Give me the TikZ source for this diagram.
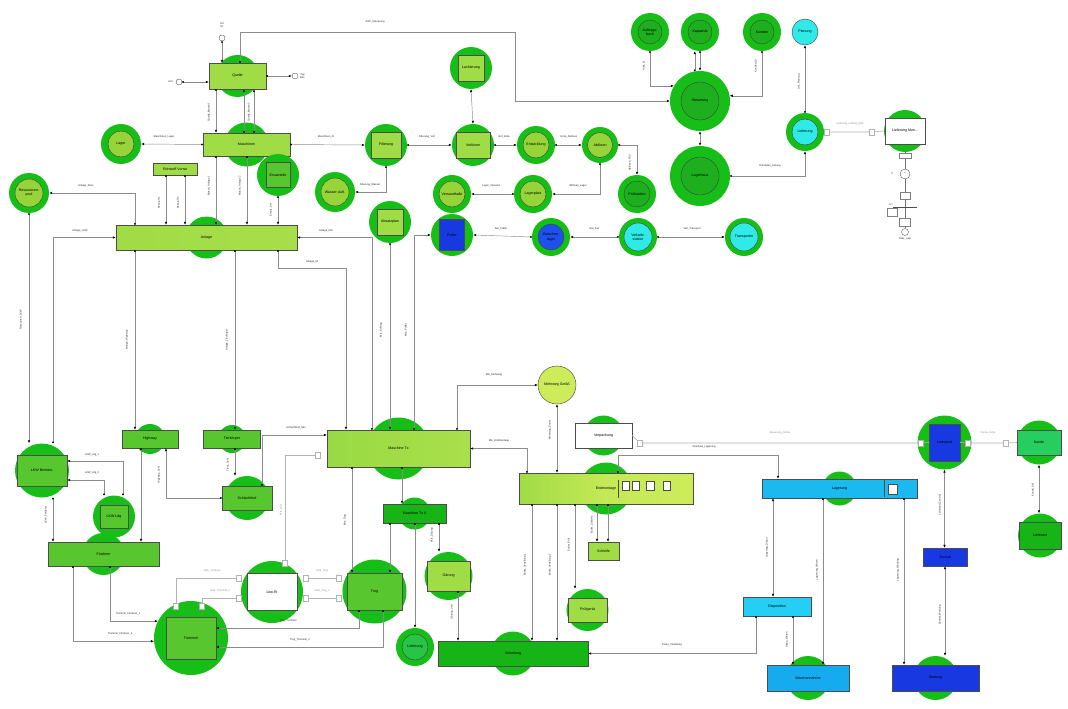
\documentclass[tikz,border=0pt]{standalone}
\usepackage{fontspec}
\setmainfont{Liberation Sans}
\usetikzlibrary{arrows.meta,calc}

\definecolor{blobg}{RGB}{24,190,24}
\definecolor{lgr}{RGB}{160,220,70}
\definecolor{lgr2}{RGB}{150,212,58}
\definecolor{mgr}{RGB}{88,198,46}
\definecolor{dgr}{RGB}{22,180,22}
\definecolor{dgr2}{RGB}{30,175,30}
\definecolor{ygr}{RGB}{206,236,90}
\definecolor{cyn}{RGB}{48,234,232}
\definecolor{skyb}{RGB}{26,186,240}
\definecolor{skyb2}{RGB}{22,170,238}
\definecolor{skyc}{RGB}{36,206,244}
\definecolor{royb}{RGB}{24,56,226}
\definecolor{blu2}{RGB}{30,80,235}
\definecolor{kgr}{RGB}{38,206,96}
\definecolor{kgr2}{RGB}{40,196,70}

% box with a green halo behind it: name, x, y, width, height, fill, text, halo size
\newcommand\boxnode[8]{%
  \node[blob=#8pt] (#1-bg) at (#2,#3) {};
  \node[rb, fill=#6, minimum width=#4pt, minimum height=#5pt] (#1) at (#2,#3) {#7};}
% ring node: name, x, y, outer size, inner size, inner fill, text
\newcommand\ringnode[7]{%
  \node[blob=#4pt] (#1) at (#2,#3) {};
  \node[cb, fill=#6, minimum size=#5pt] (#1-in) at (#2,#3) {#7};}

\begin{document}
\begin{tikzpicture}[x=1pt,y=-1pt,
  every node/.style={font=\fontsize{3.6}{4.2}\selectfont, align=center, inner sep=0pt},
  blob/.style={circle, fill=blobg, draw=none, minimum size=#1},
  rb/.style={rectangle, draw=black!70, line width=0.4pt},
  cb/.style={circle, draw=black!75, line width=0.4pt},
  cn/.style={draw=black!45, line width=0.45pt, {Circle[length=1.8pt,black]}-{Latex[length=3pt,width=2.4pt,black]}},
  cnn/.style={draw=black!45, line width=0.45pt, {Latex[length=3pt,width=2.4pt,black]}-{Latex[length=3pt,width=2.4pt,black]}},
  wr/.style={draw=black!30, line width=0.6pt},
  port/.style={rectangle, draw=black!30, fill=white, minimum width=5pt, minimum height=6pt, line width=0.35pt},
  sym/.style={circle, draw=black!70, line width=0.35pt, minimum size=6pt, fill=white},
  el/.style={font=\fontsize{2.6}{3}\selectfont, text=black!85},
  elg/.style={el, text=black!45},
  ev/.style={el, rotate=90},
]
\fill[white, use as bounding box] (0,0) rectangle (1068,709);

% ---------- upper left: source, machines, plant ----------
\boxnode{quelle}{237.5}{76}{57}{26}{lgr}{Quelle}{42}
\node[sym] (symA) at (222,38) {};
\node[el] (symAt) at (222,25) {Kd\\Nr};
\node[sym] (symB) at (179,82) {};
\node[el, anchor=east] (symBt) at (173,82) {Anz};
\node[sym] (symC) at (295,76) {};
\node[el, anchor=west] (symCt) at (300,76) {Typ\\Bez};

\boxnode{masch}{246.5}{144.5}{87}{23}{lgr}{Maschinen}{44}
\ringnode{lager}{121}{144}{40}{26}{lgr2}{Lager}
\node[rb, fill=lgr, minimum width=44pt, minimum height=12pt] (rohst) at (175,169) {Rohstoff Vorrat};
\boxnode{ersatz}{278}{175}{24}{25}{mgr}{Ersatzteile}{42}
\ringnode{ressp}{29}{193}{40}{28}{lgr2}{Ressourcen-\\pool}
\boxnode{anlage}{206.5}{237.5}{181}{25}{lgr, left color=lgr, right color=lgr!85!ygr}{Anlage}{42}

% ---------- processing chain ----------
\boxnode{filt}{386}{145}{30}{26}{lgr}{Filterung}{42}
\boxnode{vorl}{473}{145}{34}{26}{lgr}{Vorlösen}{42}
\boxnode{lack}{471}{68}{26}{26}{lgr}{Lackierung}{42}
\ringnode{entw}{536}{145}{38}{26}{lgr2}{Entwicklung}
\ringnode{trock}{600}{145}{36}{25}{lgr2}{Ablösen}
\ringnode{pruef}{637}{194}{38}{26}{dgr2}{Prüfstation}
\ringnode{lagern}{533}{194}{38}{26}{lgr2}{Lagerplatz}
\ringnode{verp}{452}{194}{38}{26}{lgr2}{Versandhalle}
\ringnode{wasser}{335}{192}{40}{28}{lgr2}{Wasser Aufl.}
\boxnode{absatz}{390}{222}{26}{26}{lgr}{Absatzplan}{42}
\boxnode{puffer}{452}{235}{25}{31}{royb}{Puffer}{42}
\ringnode{zwl}{551}{237}{38}{26}{blu2}{Zwischen-\\lager}
\ringnode{verl}{638}{237}{38}{28}{cyn}{Verlade-\\station}
\ringnode{transp}{744}{237}{38}{28}{cyn}{Transporter}

% ---------- upper right: control ----------
\ringnode{steuer}{700}{101}{60}{38}{dgr2}{Steuerung}
\ringnode{lagerh}{700}{176}{60}{38}{dgr2}{Lagerhaus}
\ringnode{auftr}{650}{32}{38}{24}{dgr2}{Auftrags-\\buch}
\ringnode{kapaz}{700}{32}{38}{24}{dgr2}{Kapazität}
\ringnode{kunden}{762}{32}{38}{24}{dgr2}{Kunden}
\node[cb, fill=cyn, minimum size=26pt] (planung) at (805,32) {Planung};
\ringnode{liefc}{805}{132}{38}{26}{cyn}{Lieferung}
\boxnode{liefmon}{905}{131}{40}{26}{white}{Lieferung Mon...}{42}

% supply branch below the monitor box
\node[rb, draw=black!50, fill=white, minimum width=12pt, minimum height=5pt] (g1) at (905,156) {};
\node[sym, minimum size=10pt] (g2) at (905,174) {\textasciitilde};
\node[el, anchor=east] (g2t) at (893,174) {3};
\node[rb, draw=black!50, fill=white, minimum width=10pt, minimum height=7pt] (g3) at (905,196) {};
\node[rb, draw=black!50, fill=white, minimum width=10pt, minimum height=8pt] (g4) at (892,212) {};
\node[el] (g4t) at (891,205) {0,1};
\node[rb, draw=black!50, fill=white, minimum width=11pt, minimum height=8pt] (g5) at (905,222) {};
\node[sym, minimum size=7pt] (g6) at (905,232) {};
\node[el] (g6t) at (905,239) {Netz\_Last};
\draw[black!55, line width=0.4pt] (liefmon-bg.south) -- (g1) -- (g2) -- (g3) -- (g5) -- (g6);
\draw[black!70, line width=0.5pt] (893,207) -- (917,207);

% ---------- middle left: transport ----------
\boxnode{lkw}{42}{470.5}{50}{31}{mgr}{LKW Bereitst.}{54}
\boxnode{lkwl}{114}{516.5}{28}{23}{mgr}{LKW Ldg}{42}
\boxnode{foerd}{103.5}{554}{111}{24}{mgr}{Förderer}{42}
\boxnode{highw}{150}{439}{56}{18}{mgr}{Highway}{30}
\boxnode{tierk}{232}{439}{57}{18}{mgr}{Tierkörper}{28}
\boxnode{schl}{247}{498}{50}{24}{mgr}{Schlachthof}{44}
\boxnode{trommel}{191}{638}{50}{42}{mgr}{Trommel}{74}
\boxnode{lkwri}{272}{592}{50}{37}{white}{Lkw-Ri}{62}
\boxnode{trog}{374.5}{591.5}{55}{37}{mgr}{Trog}{64}

% ---------- centre ----------
\boxnode{mtx}{398.5}{448.5}{143}{37}{lgr, left color=lgr!90!mgr, right color=lgr!80!ygr}{Maschine Tx}{62}
\boxnode{mtxz}{414.5}{513.5}{63}{19}{dgr}{Maschine Tx II}{32}
\boxnode{gaer}{448.5}{576}{43}{30}{lgr}{Gärung}{48}
\ringnode{liefb}{415}{647}{38}{26}{kgr2}{Lieferung}
\boxnode{verteil}{513}{653.5}{150}{25}{dgr}{Verteilung}{44}
\node[cb, fill=ygr, minimum size=38pt] (mehrweg) at (557,385) {Mehrweg Gefäß};
\boxnode{verpw}{603.5}{435.5}{57}{25}{white}{Verpackung}{40}
\boxnode{endm}{606}{488.5}{174}{31}{ygr, left color=lgr, right color=ygr, middle color=ygr!80!lgr}{Endmontage}{52}
\node[rb, fill=white, minimum width=7pt, minimum height=9pt] (em1) at (626,486) {};
\node[rb, fill=white, minimum width=7pt, minimum height=9pt] (em2) at (636,486) {};
\node[rb, fill=white, minimum width=8pt, minimum height=9pt] (em3) at (650,486) {};
\node[rb, fill=white, minimum width=7pt, minimum height=9pt] (em4) at (667,486) {};
\draw[black!70, line width=0.5pt] (618,480) -- (618,498);
\node[rb, fill=lgr, minimum width=31pt, minimum height=18pt] (schleife) at (603.5,551) {Schleife};
\boxnode{pruefg}{587.5}{610}{39}{24}{lgr}{Prüfgerät}{42}

% ---------- lower right ----------
\boxnode{lagerung}{839.5}{488.5}{155}{19}{skyb}{Lagerung}{34}
\node[rb, fill=white, minimum width=9pt, minimum height=10pt] (lg1) at (893,489) {};
\draw[black!70, line width=0.5pt] (884,480) -- (884,497);
\node[rb, fill=skyc, minimum width=68pt, minimum height=19pt] (dispo) at (777,606.5) {Disposition};
\boxnode{waren}{808}{678}{82}{26}{skyb2}{Warenannahme}{44}
\boxnode{wartung}{935.5}{678}{87}{26}{royb}{Wartung}{44}
\boxnode{leitst}{944.5}{442.5}{31}{37}{royb}{Leitstand}{54}
\node[rb, fill=royb, minimum width=44pt, minimum height=18pt] (zentral) at (945,557) {Zentral};
\boxnode{kunde}{1039}{442.5}{44}{25}{kgr}{Kunde}{44}
\boxnode{lieferant}{1040}{535.5}{42}{27}{dgr}{Lieferant}{44}

% ---------- ports of the gray link lines ----------
\node[port] (pl1) at (827,132) {};
\node[port] (pl2) at (872,132) {};
\node[port] (pv1) at (640,443) {};
\node[port] (pv2) at (921,443) {};
\node[port] (pk1) at (968,443) {};
\node[port] (pk2) at (1006,443) {};
\node[port] (pt1) at (176,606) {};
\node[port] (pt2) at (202,606) {};
\node[port] (pr1) at (239,578) {};
\node[port] (pr2) at (239,598) {};
\node[port] (pr3) at (306,578) {};
\node[port] (pr4) at (306,598) {};
\node[port] (pg1) at (339,578) {};
\node[port] (pg2) at (339,598) {};
\node[port] (pr5) at (285,563) {};
\node[port] (pm1) at (318,455) {};

% ---------- connectors: upper left ----------
\draw[cn] (symA) -- (quelle.north -| symA);
\draw[cn] (symB) -- (quelle.west |- symB);
\draw[cn] (quelle.east) -- (symC);
\draw[cn] (quelle.north -| 240,0) |- (515,32) |- (steuer.west);
\draw[cn] (quelle.south -| 216,0) -- (masch.north -| 216,0);
\draw[cn] (masch.north -| 244,0) -- (quelle.south -| 244,0);
\draw[cn] (masch.north -| 254,0) -- (quelle.south -| 254,0);
\draw[cn] (masch.west) -- (lager.east);
\draw[cn] (masch.east) -- (filt-bg.west);
\draw[cn] (masch.south -| 216,0) -- (anlage.north -| 216,0);
\draw[cn] (masch.south -| 247,0) -- (anlage.north -| 247,0);
\draw[cn] (rohst.south -| 166,0) -- (anlage.north -| 166,0);
\draw[cn] (rohst.south -| 185,0) -- (anlage.north -| 185,0);
\draw[cn] (ersatz-bg.south) -- (anlage.north -| ersatz-bg.south);
\draw[cn] (anlage.north -| 135,0) |- (ressp.east);
\draw[cn] (ressp.south) -- (lkw-bg.north -| ressp.south);
\draw[cn] (lkw-bg.north -| 53,0) |- (anlage.west);
\draw[cn] (anlage.south -| 135,0) -- (highw.north -| 135,0);
\draw[cn] (anlage.south -| 235,0) -- (tierk.north -| 235,0);
\draw[cn] (anlage.south -| 278,0) -- (278,268) -| (mtx.north -| 346,0);
\draw[cn] (mtx.north -| 372,0) |- (anlage.east);
\draw[cn] (absatz-bg.south) -- (mtx.north -| absatz-bg.south);
\draw[cn] (mtx.north -| 414,0) |- (puffer-bg.west);

% ---------- connectors: processing chain ----------
\draw[cn] (filt-bg.east) -- (vorl-bg.west);
\draw[cnn] (vorl-bg.north) -- (lack-bg.south);
\draw[cn] (vorl-bg.east) -- (entw.west);
\draw[cn] (entw.east) -- (trock.west);
\draw[cn] (trock.east) -| (pruef.north);
\draw[cn] (trock.south) |- (lagern.east);
\draw[cn] (lagern.west) -- (verp.east);
\draw[cn] (filt-bg.south) |- (wasser.east);
\draw[cn] (verl.west) -- (zwl.east);
\draw[cn] (zwl.west) -- (puffer-bg.east);
\draw[cn] (verl.east) -- (transp.west);

% ---------- connectors: control ----------
\draw[cn] (auftr.south) |- (steuer.150);
\draw[cn] (kapaz.south) -- (steuer.north);
\draw[cn] (steuer.100) -- (steuer.100 |- kapaz.south);
\draw[cn] (kunden.south) |- (steuer.10);
\draw[cn] (liefc.north) -- (planung.south);
\draw[cnn] (steuer.south) -- (lagerh.north);
\draw[cn] (lagerh.east) -| (liefc.south);
\draw[wr] (liefc.east) -- (pl1) -- (pl2) -- (liefmon-bg.west);

% ---------- connectors: transport ----------
\draw[cn] (lkwl-bg.north -| 123,0) |- (lkw.east |- 0,461);
\draw[cn] (lkwl-bg.north -| 104,0) |- (lkw.east |- 0,480);
\draw[cn] (lkw-bg.south -| 53,0) -- (foerd.north -| 53,0);
\draw[cn] (highw.south -| 141,0) -- (foerd.north -| 141,0);
\draw[cn] (schl.west) -| (highw.south -| 166,0);
\draw[cn] (tierk.south -| 235,0) -- (schl-bg.north -| 235,0);
\draw[cn] (schl.north -| 262,0) |- (mtx.west |- 0,435);
\draw[cn] (foerd.south -| 73,0) |- (trommel-bg.185);
\draw[cn] (foerd.south -| 110,0) |- (trommel-bg.153);
\draw[cn] (trog.south -| 359,0) |- (trommel.east |- 0,628);
\draw[cn] (trog.south -| 383,0) |- (trommel.east |- 0,647);
\draw[wr] (pt1) |- (pr1);
\draw[wr] (pt2) |- (pr2);
\draw[wr] (pr3) -- (pg1);
\draw[wr] (pr4) -- (pg2);
\draw[wr] (pr5) |- (pm1);

% ---------- connectors: centre ----------
\draw[cn] (mtx.south -| 352,0) -- (trog.north -| 352,0);
\draw[cn] (mtx.south -| 402,0) -- (mtxz.north -| 402,0);
\draw[cn] (mtxz.south -| 390,0) -- (trog.north -| 390,0);
\draw[cn] (mtxz.south -| 415,0) -- (liefb.north);
\draw[cn] (mtxz.south -| 439,0) -- (gaer-bg.north -| 439,0);
\draw[cn] (gaer.south -| 458,0) -- (verteil.north -| 458,0);
\draw[cn] (mtx.north -| 457,0) |- (mehrweg.west);
\draw[cnn] (mehrweg.south) -- (endm.north -| mehrweg.south);
\draw[cn] (endm.north -| 527,0) |- (mtx.east);
\draw[cn] (endm.north -| 618,0) -- (618,455) -| (lagerung.north -| 778,0);
\draw[cn] (endm.south -| 532,0) -- (verteil.north -| 532,0);
\draw[cn] (endm.south -| 557,0) -- (verteil.north -| 557,0);
\draw[cn] (endm.south -| 575,0) -- (pruefg-bg.north -| 575,0);
\draw[cn] (endm.south -| 597,0) -- (schleife.north -| 597,0);
\draw[cn] (endm.south -| 608,0) -- (schleife.north -| 608,0);
\draw[wr] (verpw.east) -- (pv1) -- (pv2) -- (leitst.west);

% ---------- connectors: lower right ----------
\draw[wr] (leitst.east) -- (pk1) -- (pk2) -- (kunde.west);
\draw[cnn] (kunde-bg.south) -- (lieferant-bg.north -| kunde-bg.south);
\draw[cnn] (leitst-bg.south) -- (zentral.north -| leitst-bg.south);
\draw[cnn] (zentral.south) -- (wartung-bg.north -| zentral.south);
\draw[cnn] (lagerung.south -| 773,0) -- (dispo.north -| 773,0);
\draw[cn] (lagerung.south -| 823,0) -- (waren.north -| 823,0);
\draw[cn] (lagerung.south -| 904,0) -- (wartung.north -| 904,0);
\draw[cn] (dispo.south -| 793,0) -- (waren.north -| 793,0);
\draw[cn] (dispo.south -| 756,0) |- (verteil.east);

% ---------- connector labels ----------
\node[el] (l01) at (375,22) {Auftr\_Steuerung};
\node[el] (l02) at (164,137) {Maschinen\_Lager};
\node[el] (l03) at (326,137) {Maschinen\_Fi};
\node[el] (l04) at (427,137) {Filterung\_Vorl};
\node[el] (l05) at (504,137) {Vorl\_Entw};
\node[el] (l06) at (569,137) {Entw\_Ablösen};
\node[el] (l07) at (370,185) {Filterung\_Wasser};
\node[el] (l08) at (491,186) {Lager\_Versand};
\node[el] (l09) at (578,186) {Ablösen\_Lager};
\node[ev] (l10) at (630,163) {Ablösen\_Prüf};
\node[el] (l11) at (86,186) {Anlage\_Ress};
\node[el] (l12) at (80,231) {Anlage\_LKW};
\node[el] (l13) at (326,231) {Anlage\_Mtx};
\node[el] (l14) at (312,262) {Anlage\_M};
\node[el] (l15) at (501,229) {Zwl\_Puffer};
\node[el] (l16) at (594,229) {Verl\_Zwl};
\node[el] (l17) at (692,229) {Verl\_Transport};
\node[el] (l18) at (770,166) {Rohdaten\_Leitung};
\node[elg] (l19) at (850,124) {Lieferung\_Leitung\_Mon};
\node[elg] (l20) at (780,433) {Steuerung\_Rollen};
\node[elg] (l21) at (988,433) {Kunde\_Rolle};
\node[el] (l22) at (704,447) {Teilefluss\_Lagerung};
\node[el] (l23) at (494,375) {Mtx\_Mehrweg};
\node[el] (l24) at (499,441) {Mtx\_Endmontage};
\node[el] (l25) at (296,428) {Schlachthof\_Mtx};
\node[el] (l26) at (672,645) {Dispo\_Verteilung};
\node[el] (l27) at (92,455) {LKW\_Ldg\_1};
\node[el] (l28) at (92,473) {LKW\_Ldg\_2};
\node[el] (l29) at (128,614) {Trommel\_Förderer\_1};
\node[el] (l30) at (120,634) {Trommel\_Förderer\_2};
\node[el] (l31) at (288,621) {Trog\_Trommel};
\node[el] (l32) at (300,640) {Trog\_Trommel\_2};
\node[elg] (l33) at (212,571) {Verb\_Trommel};
\node[elg] (l34) at (220,591) {Verb\_Trommel\_2};
\node[elg] (l35) at (322,571) {Verb\_Trog};
\node[elg] (l36) at (322,591) {Verb\_Trog\_2};
\node[elg, rotate=90] (l37) at (281,510) {Mtx\_Lkw};
\node[ev] (l38) at (21,320) {Ressource\_LKW};
\node[ev] (l39) at (127,340) {Anlage\_Highway};
\node[ev] (l40) at (227,340) {Anlage\_Tierkörper};
\node[ev] (l41) at (381,330) {Mtx\_Auftrag};
\node[ev] (l42) at (406,330) {Mtx\_Puffer};
\node[ev] (l43) at (159,203) {Rohstoff 1};
\node[ev] (l44) at (178,203) {Rohstoff 2};
\node[ev] (l45) at (209,112) {Quelle\_Masch 1};
\node[ev] (l46) at (249,112) {Quelle\_Masch 2};
\node[ev] (l47) at (209,186) {Masch\_Anlage 1};
\node[ev] (l48) at (240,186) {Masch\_Anlage 2};
\node[ev] (l49) at (271,210) {Ersatz\_Anl};
\node[ev] (l50) at (46,515) {LKW\_Förderer};
\node[ev] (l51) at (159,475) {Highway\_Schl};
\node[ev] (l52) at (228,465) {Tierk\_Schl};
\node[ev] (l53) at (550,430) {Mehrweg\_Endm};
\node[ev] (l54) at (525,565) {Endm\_Verteilung 1};
\node[ev] (l55) at (550,565) {Endm\_Verteilung 2};
\node[ev] (l56) at (569,545) {Endm\_Prüf};
\node[ev] (l57) at (592,525) {Endm\_Schleife};
\node[ev] (l58) at (767,548) {Lagerung\_Dispo};
\node[ev] (l59) at (817,570) {Lagerung\_Waren};
\node[ev] (l60) at (898,570) {Lagerung\_Wartung};
\node[ev] (l61) at (787,640) {Dispo\_Waren};
\node[ev] (l62) at (940,505) {Leitstand\_Zentral};
\node[ev] (l63) at (940,615) {Zentral\_Wartung};
\node[ev] (l64) at (1033,490) {Kunde\_Lief};
\node[ev] (l65) at (644,66) {Auftr\_St};
\node[ev] (l66) at (756,66) {Kunden\_St};
\node[ev] (l67) at (799,82) {Lief\_Planung};
\node[ev] (l68) at (345,520) {Mtx\_Trog};
\node[ev] (l69) at (432,535) {Mtx\_Gärung};
\node[ev] (l70) at (452,612) {Gärung\_Vert};
\end{tikzpicture}
\end{document}
